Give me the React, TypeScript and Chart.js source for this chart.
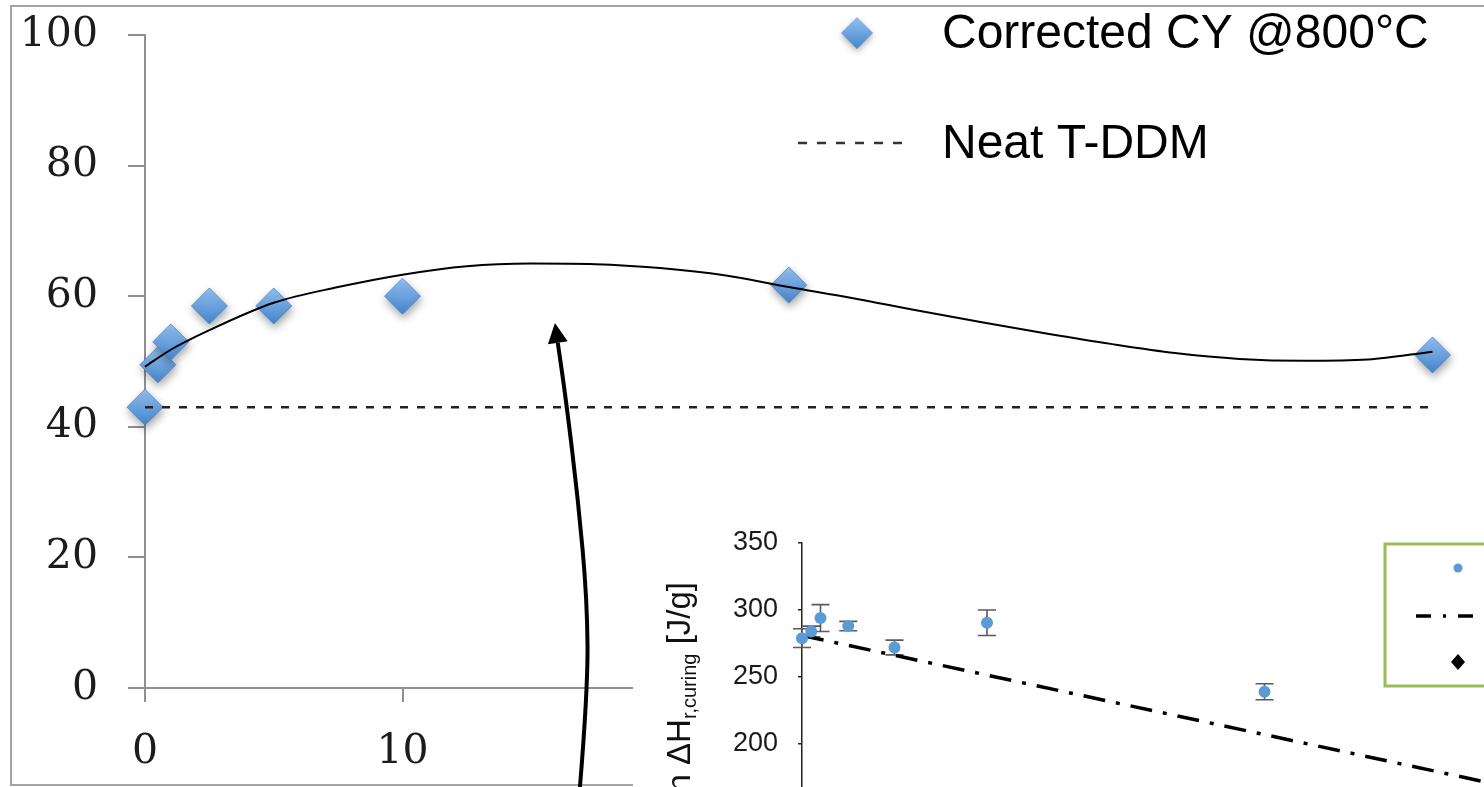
import React, { useEffect, useRef } from "react";
import { Chart, registerables } from "chart.js";

Chart.register(...registerables);

// ---------- Main chart data ----------
const CY_X = [0, 0.5, 1, 2.5, 5, 10, 25, 50];
const CY_Y = [43, 49.5, 53, 58.5, 58.5, 60, 61.7, 51];

const TREND_X = [0, 1, 2.5, 5, 7.5, 10, 12.5, 15, 17.5, 20, 22.5, 25, 27.5, 30, 32.5, 35, 37.5, 40, 42.5, 45, 47.5, 50];
const TREND_Y = [49.2, 51.8, 54.8, 59.0, 61.4, 63.3, 64.6, 65.0, 64.9, 64.3, 63.2, 61.4, 59.7, 57.8, 56.0, 54.3, 52.7, 51.3, 50.4, 50.1, 50.3, 51.5];

const NEAT_X = [0, 50];
const NEAT_Y = [43, 43];

const MAIN_X_TICKS = [0, 10, 20, 30, 40, 50];
const MAIN_Y_TICKS = [0, 20, 40, 60, 80, 100];
const MAIN_LEGEND = ["Corrected CY @800°C", "Neat T-DDM"];

// arrow annotation, in main-chart data units
const ARROW_X = [16.89, 17.2, 17.17, 16.82, 16.35, 15.92];
const ARROW_Y = [-15.2, -0.3, 13.5, 28.8, 44.1, 55.9];

// ---------- Inset chart data ----------
const INSET_X = [0, 0.5, 1, 2.5, 5, 10, 25];
const INSET_Y = [279, 284, 294, 288, 272, 290.5, 239];
const INSET_ERR = [7, 4, 10, 3.5, 5.5, 9.5, 6];
const FIT_X = [0, 25, 50];
const FIT_Y = [281, 207, 133];
const INSET_Y_TICKS = [100, 150, 200, 250, 300, 350];
const INSET_TITLE = ["Reaction ΔH", "r,curing", " [J/g]"];

const SERIF = "'DejaVu Serif', serif";
const SANS = "'Liberation Sans', Arial, Helvetica, sans-serif";
const AXIS = "#8f8f8f";

function diamondGradient(ctx: CanvasRenderingContext2D, y: number, r: number): any {
  if (!Number.isFinite(y)) return "#5b9bd5";
  const g = ctx.createLinearGradient(0, y - r, 0, y + r);
  g.addColorStop(0, "#93c1f0");
  g.addColorStop(1, "#4584cc");
  return g;
}

const noPad = (s: any) => {
  s.paddingTop = 0;
  s.paddingBottom = 0;
  s.paddingLeft = 0;
  s.paddingRight = 0;
};

export default function App() {
  const mainRef = useRef<HTMLCanvasElement>(null);
  const insetRef = useRef<HTMLCanvasElement>(null);

  useEffect(() => {
    const xy = (xs: number[], ys: number[]) => xs.map((x, i) => ({ x, y: ys[i] }));

    const mainPlugin = {
      id: "mainDecor",
      beforeDraw(chart: any) {
        const ctx = chart.ctx;
        ctx.save();
        ctx.fillStyle = "#fff";
        ctx.fillRect(0, 0, chart.width, chart.height);
        ctx.strokeStyle = "#a3a3a3";
        ctx.lineWidth = 2;
        ctx.beginPath();
        ctx.moveTo(chart.width + 5, 6);
        ctx.lineTo(11, 6);
        ctx.lineTo(11, 785);
        ctx.lineTo(chart.width + 5, 785);
        ctx.stroke();
        ctx.restore();
      },
      beforeDatasetDraw(chart: any, args: any) {
        if (args.index === 2) {
          const ctx = chart.ctx;
          ctx.save();
          ctx.shadowColor = "rgba(0,0,0,0.35)";
          ctx.shadowBlur = 8;
          ctx.shadowOffsetX = 1;
          ctx.shadowOffsetY = 4;
        }
      },
      afterDatasetDraw(chart: any, args: any) {
        if (args.index === 2) chart.ctx.restore();
      },
      afterDraw(chart: any) {
        const ctx = chart.ctx;
        const xs = chart.scales.x;
        const ys = chart.scales.y;
        // legend
        ctx.save();
        ctx.shadowColor = "rgba(0,0,0,0.3)";
        ctx.shadowBlur = 6;
        ctx.shadowOffsetY = 3;
        const lx = 857, ly = 33, r = 16;
        ctx.beginPath();
        ctx.moveTo(lx - r, ly);
        ctx.lineTo(lx, ly - r);
        ctx.lineTo(lx + r, ly);
        ctx.lineTo(lx, ly + r);
        ctx.closePath();
        ctx.fillStyle = diamondGradient(ctx, ly, r);
        ctx.fill();
        ctx.restore();

        ctx.save();
        ctx.strokeStyle = "#333";
        ctx.lineWidth = 2.5;
        ctx.setLineDash([9, 10]);
        ctx.beginPath();
        ctx.moveTo(798, 143);
        ctx.lineTo(912, 143);
        ctx.stroke();
        ctx.setLineDash([]);
        ctx.fillStyle = "#000";
        ctx.font = `48px ${SANS}`;
        ctx.textBaseline = "middle";
        ctx.textAlign = "left";
        ctx.fillText(MAIN_LEGEND[0], 942, 35);
        ctx.fillText(MAIN_LEGEND[1], 942, 145);
        ctx.restore();

        // arrow
        const pts = ARROW_X.map((x, i) => ({ x: xs.getPixelForValue(x), y: ys.getPixelForValue(ARROW_Y[i]) }));
        const tip = pts[pts.length - 1];
        const prev = pts[pts.length - 2];
        const dx = tip.x - prev.x, dy = tip.y - prev.y;
        const len = Math.hypot(dx, dy) || 1;
        const ux = dx / len, uy = dy / len;
        const headL = 20, headW = 10;
        const base = { x: tip.x - ux * headL, y: tip.y - uy * headL };
        const line = pts.slice(0, -1).concat([base]);
        ctx.save();
        ctx.strokeStyle = "#000";
        ctx.lineWidth = 4;
        ctx.lineCap = "butt";
        ctx.beginPath();
        ctx.moveTo(line[0].x, line[0].y);
        for (let i = 1; i < line.length - 1; i++) {
          const mx = (line[i].x + line[i + 1].x) / 2;
          const my = (line[i].y + line[i + 1].y) / 2;
          ctx.quadraticCurveTo(line[i].x, line[i].y, mx, my);
        }
        ctx.lineTo(base.x, base.y);
        ctx.stroke();
        ctx.beginPath();
        ctx.moveTo(tip.x, tip.y);
        ctx.lineTo(base.x - uy * headW, base.y + ux * headW);
        ctx.lineTo(base.x + uy * headW, base.y - ux * headW);
        ctx.closePath();
        ctx.fillStyle = "#000";
        ctx.fill();
        ctx.restore();
      },
    };

    const main = new Chart(mainRef.current as HTMLCanvasElement, {
      type: "scatter",
      data: {
        datasets: [
          {
            label: "Trend",
            data: xy(TREND_X, TREND_Y),
            showLine: true,
            borderColor: "#000",
            borderWidth: 2,
            pointRadius: 0,
            cubicInterpolationMode: "monotone",
            clip: false,
          } as any,
          {
            label: MAIN_LEGEND[1],
            data: xy(NEAT_X, NEAT_Y),
            showLine: true,
            borderColor: "#222",
            borderWidth: 2.5,
            borderDash: [8, 9],
            pointRadius: 0,
            clip: false,
          } as any,
          {
            label: MAIN_LEGEND[0],
            data: xy(CY_X, CY_Y),
            pointStyle: "rectRot",
            pointRadius: 18,
            borderWidth: 0.8,
            borderColor: "#4a86c6",
            backgroundColor: (c: any) => {
              try {
                if (!c.parsed || !c.chart.scales || !c.chart.scales.y) return "#5b9bd5";
                const y = c.chart.scales.y.getPixelForValue(c.parsed.y);
                return diamondGradient(c.chart.ctx, y, 18);
              } catch (e) {
                return "#5b9bd5";
              }
            },
            clip: false,
          } as any,
        ],
      },
      options: {
        responsive: false,
        animation: false,
        devicePixelRatio: 1,
        layout: { autoPadding: false, padding: { left: 0, top: 35, right: 0, bottom: 0 } },
        plugins: { legend: { display: false }, tooltip: { enabled: false } },
        scales: {
          x: {
            type: "linear",
            min: 0,
            max: 52,
            afterBuildTicks: (s: any) => {
              s.ticks = MAIN_X_TICKS.map((v) => ({ value: v }));
            },
            afterFit: (s: any) => {
              s.height = 99;
              noPad(s);
            },
            border: { display: true, color: AXIS, width: 2 },
            grid: { display: true, drawOnChartArea: false, drawTicks: true, tickLength: 14, color: AXIS, lineWidth: 2 },
            ticks: { font: { family: SERIF, size: 41 }, color: "#1c1c1c", padding: 26, maxRotation: 0, autoSkip: false },
          },
          y: {
            type: "linear",
            min: 0,
            max: 100,
            afterBuildTicks: (s: any) => {
              s.ticks = MAIN_Y_TICKS.map((v) => ({ value: v }));
            },
            afterFit: (s: any) => {
              s.width = 145;
              noPad(s);
            },
            border: { display: true, color: AXIS, width: 2 },
            grid: { display: true, drawOnChartArea: false, drawTicks: true, tickLength: 17, color: AXIS, lineWidth: 2 },
            ticks: { font: { family: SERIF, size: 41 }, color: "#1c1c1c", padding: 30, autoSkip: false },
          },
        },
      } as any,
      plugins: [mainPlugin],
    });

    const insetPlugin = {
      id: "insetDecor",
      beforeDraw(chart: any) {
        const ctx = chart.ctx;
        ctx.save();
        ctx.fillStyle = "#fff";
        ctx.fillRect(0, 0, chart.width, chart.height);
        ctx.restore();
      },
      beforeDatasetsDraw(chart: any) {
        const ctx = chart.ctx;
        const xs = chart.scales.x;
        const ys = chart.scales.y;
        ctx.save();
        ctx.strokeStyle = "#5a5a5a";
        ctx.lineWidth = 1.6;
        INSET_X.forEach((x, i) => {
          const px = xs.getPixelForValue(x);
          const top = ys.getPixelForValue(INSET_Y[i] + INSET_ERR[i]);
          const bot = ys.getPixelForValue(INSET_Y[i] - INSET_ERR[i]);
          ctx.beginPath();
          ctx.moveTo(px, top);
          ctx.lineTo(px, bot);
          ctx.moveTo(px - 9, top);
          ctx.lineTo(px + 9, top);
          ctx.moveTo(px - 9, bot);
          ctx.lineTo(px + 9, bot);
          ctx.stroke();
        });
        ctx.restore();
      },
      afterDraw(chart: any) {
        const ctx = chart.ctx;
        // y-axis title (rotated, with subscript)
        ctx.save();
        ctx.fillStyle = "#111";
        ctx.textBaseline = "alphabetic";
        ctx.textAlign = "left";
        const bigFont = `33px ${SANS}`;
        const subFont = `20px ${SANS}`;
        ctx.font = bigFont;
        const w1 = ctx.measureText(INSET_TITLE[0]).width;
        const w3 = ctx.measureText(INSET_TITLE[2]).width;
        ctx.font = subFont;
        const w2 = ctx.measureText(INSET_TITLE[1]).width;
        const total = w1 + w2 + w3;
        ctx.translate(57, 82 + total);
        ctx.rotate(-Math.PI / 2);
        ctx.font = bigFont;
        ctx.fillText(INSET_TITLE[0], 0, 0);
        ctx.font = subFont;
        ctx.fillText(INSET_TITLE[1], w1, 6);
        ctx.font = bigFont;
        ctx.fillText(INSET_TITLE[2], w1 + w2, 0);
        ctx.restore();

        // legend box
        ctx.save();
        ctx.strokeStyle = "#9bbb59";
        ctx.lineWidth = 3;
        ctx.strokeRect(752, 44, 320, 142);
        ctx.fillStyle = "#5b9bd5";
        ctx.beginPath();
        ctx.arc(825, 68, 4.5, 0, Math.PI * 2);
        ctx.fill();
        ctx.strokeStyle = "#000";
        ctx.lineWidth = 3.5;
        ctx.beginPath();
        ctx.moveTo(783, 116);
        ctx.lineTo(798, 116);
        ctx.moveTo(810, 116);
        ctx.lineTo(813, 116);
        ctx.moveTo(825, 116);
        ctx.lineTo(840, 116);
        ctx.stroke();
        ctx.fillStyle = "#000";
        ctx.beginPath();
        ctx.moveTo(825 - 7, 162);
        ctx.lineTo(825, 162 - 8);
        ctx.lineTo(825 + 7, 162);
        ctx.lineTo(825, 162 + 8);
        ctx.closePath();
        ctx.fill();
        ctx.restore();
      },
    };

    const inset = new Chart(insetRef.current as HTMLCanvasElement, {
      type: "scatter",
      data: {
        datasets: [
          {
            label: "Measured",
            data: xy(INSET_X, INSET_Y),
            pointStyle: "circle",
            pointRadius: 6,
            backgroundColor: "#5b9bd5",
            borderColor: "#5b9bd5",
            borderWidth: 0,
            clip: false,
          } as any,
          {
            label: "Fit",
            data: xy(FIT_X, FIT_Y),
            showLine: true,
            borderColor: "#000",
            borderWidth: 3.5,
            borderDash: [22, 11, 4, 11],
            pointRadius: 0,
            clip: false,
          } as any,
        ],
      },
      options: {
        responsive: false,
        animation: false,
        devicePixelRatio: 1,
        layout: { autoPadding: false, padding: { left: 0, top: 43, right: 306, bottom: 262 } },
        plugins: { legend: { display: false }, tooltip: { enabled: false } },
        scales: {
          x: {
            type: "linear",
            min: 0,
            max: 50,
            afterFit: (s: any) => {
              s.height = 60;
              noPad(s);
            },
            border: { display: true, color: "#222", width: 1.5 },
            grid: { display: true, drawOnChartArea: false, drawTicks: true, tickLength: 4, color: "#222", lineWidth: 1.5 },
            ticks: { font: { family: SANS, size: 27 }, color: "#1a1a1a", stepSize: 10 },
          },
          y: {
            type: "linear",
            min: 100,
            max: 350,
            afterBuildTicks: (s: any) => {
              s.ticks = INSET_Y_TICKS.map((v) => ({ value: v }));
            },
            afterFit: (s: any) => {
              s.width = 169;
              noPad(s);
            },
            border: { display: true, color: "#222", width: 1.5 },
            grid: { display: true, drawOnChartArea: false, drawTicks: true, tickLength: 4, color: "#222", lineWidth: 1.5 },
            ticks: { font: { family: SANS, size: 27 }, color: "#1a1a1a", padding: 20, autoSkip: false },
          },
        },
      } as any,
      plugins: [insetPlugin],
    });

    return () => {
      main.destroy();
      inset.destroy();
    };
  }, []);

  return (
    <div style={{ position: "fixed", left: 0, top: 0, width: 1484, height: 787, overflow: "hidden", background: "#fff" }}>
      <canvas
        ref={mainRef}
        width={1484}
        height={787}
        style={{ position: "absolute", left: 0, top: 0, width: 1484, height: 787, display: "block" }}
      />
      <div style={{ position: "absolute", left: 633, top: 500, width: 851, height: 287, overflow: "hidden", background: "#fff" }}>
        <canvas
          ref={insetRef}
          width={1400}
          height={700}
          style={{ position: "absolute", left: 0, top: 0, width: 1400, height: 700, display: "block" }}
        />
      </div>
    </div>
  );
}
